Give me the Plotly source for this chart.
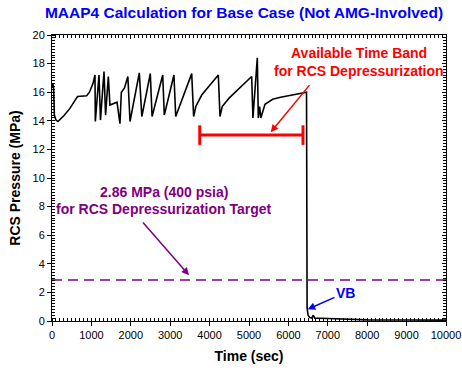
import plotly.graph_objects as go

# ---- data ----
time_sec = [0, 20, 40, 60, 100, 150, 300, 450, 600, 650, 880, 950, 1040, 1091, 1100,
            1193, 1230, 1320, 1360, 1430, 1470, 1650, 1725, 1760, 1840, 1925, 1980,
            2216, 2280, 2495, 2540, 2810, 2850, 3095, 3140, 3546, 3595, 3650, 3800,
            4000, 4221, 4264, 4320, 4500, 4800, 5068, 5100, 5211, 5236, 5270, 5300,
            5406, 5600, 5800, 6100, 6337, 6460, 6475, 6500, 6540, 6590, 6633, 6670,
            7000, 7500, 8000, 9000, 10000]
pressure_mpa = [16.3, 16.6, 16.3, 14.4, 14.05, 13.95, 14.35, 14.85, 15.5, 15.7, 15.75, 16.0,
                16.6, 17.2, 13.95, 17.2, 14.05, 17.45, 14.4, 17.1, 15.1, 15.3, 13.8, 16.0,
                16.3, 17.1, 13.95, 17.35, 14.3, 17.3, 14.3, 17.2, 14.4, 17.2, 14.3, 17.3,
                14.3, 15.0, 15.8, 16.5, 17.2, 14.3, 15.0, 15.6, 16.4, 17.1, 14.2, 18.4,
                14.2, 15.0, 14.2, 15.15, 15.5, 15.65, 15.8, 15.9, 16.0, 0.9, 0.4, 0.25,
                0.2, 0.4, 0.2, 0.18, 0.12, 0.08, 0.07, 0.06]

band_time = [3750, 6370]          # available time band (sec)
band_level = 13.0                  # drawn at this pressure (MPa)
target_pressure = 2.86             # MPa (400 psia)
x_range = [0, 10000]
y_range = [0, 20]

FONT = "Liberation Sans, Arial, sans-serif"
PURPLE = "#800080"
RED = "#FF0000"
BLUE = "#0000FF"

W, H = 462, 374

fig = go.Figure()

# target dashed line
fig.add_trace(go.Scatter(x=x_range, y=[target_pressure, target_pressure], mode="lines",
                         line=dict(color=PURPLE, width=1.5, dash="10px,6px"),
                         hoverinfo="skip", showlegend=False))

# pressure curve
fig.add_trace(go.Scatter(x=time_sec, y=pressure_mpa, mode="lines",
                         line=dict(color="black", width=1.6), showlegend=False))

# red time band
fig.add_trace(go.Scatter(x=band_time, y=[band_level, band_level], mode="lines+markers",
                         line=dict(color=RED, width=3),
                         marker=dict(symbol="line-ns", size=14,
                                     line=dict(color=RED, width=3)),
                         showlegend=False))

# dummy trace for the mirrored axes
fig.add_trace(go.Scatter(x=[None], y=[None], xaxis="x2", yaxis="y2",
                         showlegend=False, hoverinfo="skip"))

axis_common = dict(showline=True, linecolor="black", linewidth=1, showgrid=False,
                   zeroline=False, tickcolor="black", automargin=False,
                   tickformat="d",
                   tickfont=dict(family=FONT, size=11, color="black"))

fig.update_layout(
    width=W, height=H,
    margin=dict(l=52, r=16, t=35, b=53),
    paper_bgcolor="white", plot_bgcolor="white",
    title=dict(text="<b>MAAP4 Calculation for Base Case (Not AMG-Involved)</b>",
               x=244 / W, xanchor="center", y=1 - 13 / H, yanchor="middle",
               font=dict(family=FONT, size=15.5, color=BLUE)),
    xaxis=dict(range=x_range, dtick=1000, tick0=0, ticks="outside", ticklen=4,
               minor=dict(dtick=100, ticks="inside", ticklen=3, tickcolor="black"),
               title=dict(text="<b>Time (sec)</b>", standoff=10,
                          font=dict(family=FONT, size=14, color="black")),
               **axis_common),
    yaxis=dict(range=y_range, dtick=2, tick0=0, ticks="outside", ticklen=4,
               minor=dict(dtick=0.2, ticks="inside", ticklen=3, tickcolor="black"),
               title=dict(text="<b>RCS Pressure (MPa)</b>", standoff=8,
                          font=dict(family=FONT, size=14, color="black")),
               **axis_common),
    xaxis2=dict(range=x_range, dtick=1000, tick0=0, ticks="inside", ticklen=4,
                minor=dict(dtick=100, ticks="inside", ticklen=3, tickcolor="black"),
                overlaying="x", side="top", anchor="y2", showticklabels=False,
                **axis_common),
    yaxis2=dict(range=y_range, dtick=2, tick0=0, ticks="inside", ticklen=4,
                minor=dict(dtick=0.2, ticks="inside", ticklen=3, tickcolor="black"),
                overlaying="y", side="right", anchor="x2", showticklabels=False,
                **axis_common),
    showlegend=False,
    hovermode=False,
)

annots = [
    dict(x=7800, y=18.75, text="<b>Available Time Band</b>", font=dict(color=RED)),
    dict(x=7790, y=17.5, text="<b>for RCS Depressurization</b>", font=dict(color=RED)),
    dict(x=2830, y=9.0, text="<b>2.86 MPa (400 psia)</b>", font=dict(color=PURPLE)),
    dict(x=2830, y=7.85, text="<b>for RCS Depressurization Target</b>", font=dict(color=PURPLE)),
    dict(x=7450, y=1.95, text="<b>VB</b>", font=dict(color=BLUE)),
]
for a in annots:
    a["font"].update(family=FONT, size=14)
    fig.add_annotation(xref="x", yref="y", showarrow=False, xanchor="center",
                       yanchor="middle", **a)

arrows = [
    dict(x=5551, y=13.2, ax=6566, ay=16.6, arrowcolor=RED),
    dict(x=3477, y=3.2, ax=2276, ay=7.0, arrowcolor=PURPLE),
    dict(x=6490, y=0.82, ax=7208, ay=1.7, arrowcolor=BLUE),
]
for a in arrows:
    fig.add_annotation(xref="x", yref="y", axref="x", ayref="y", text="",
                       showarrow=True, arrowhead=2, arrowsize=1, arrowwidth=1.5,
                       standoff=0, startstandoff=0, **a)

fig.write_html("out.html",
               config={"displayModeBar": False, "staticPlot": True},
               post_script="document.body.style.margin='0';"
                           "document.body.style.overflow='hidden';")
